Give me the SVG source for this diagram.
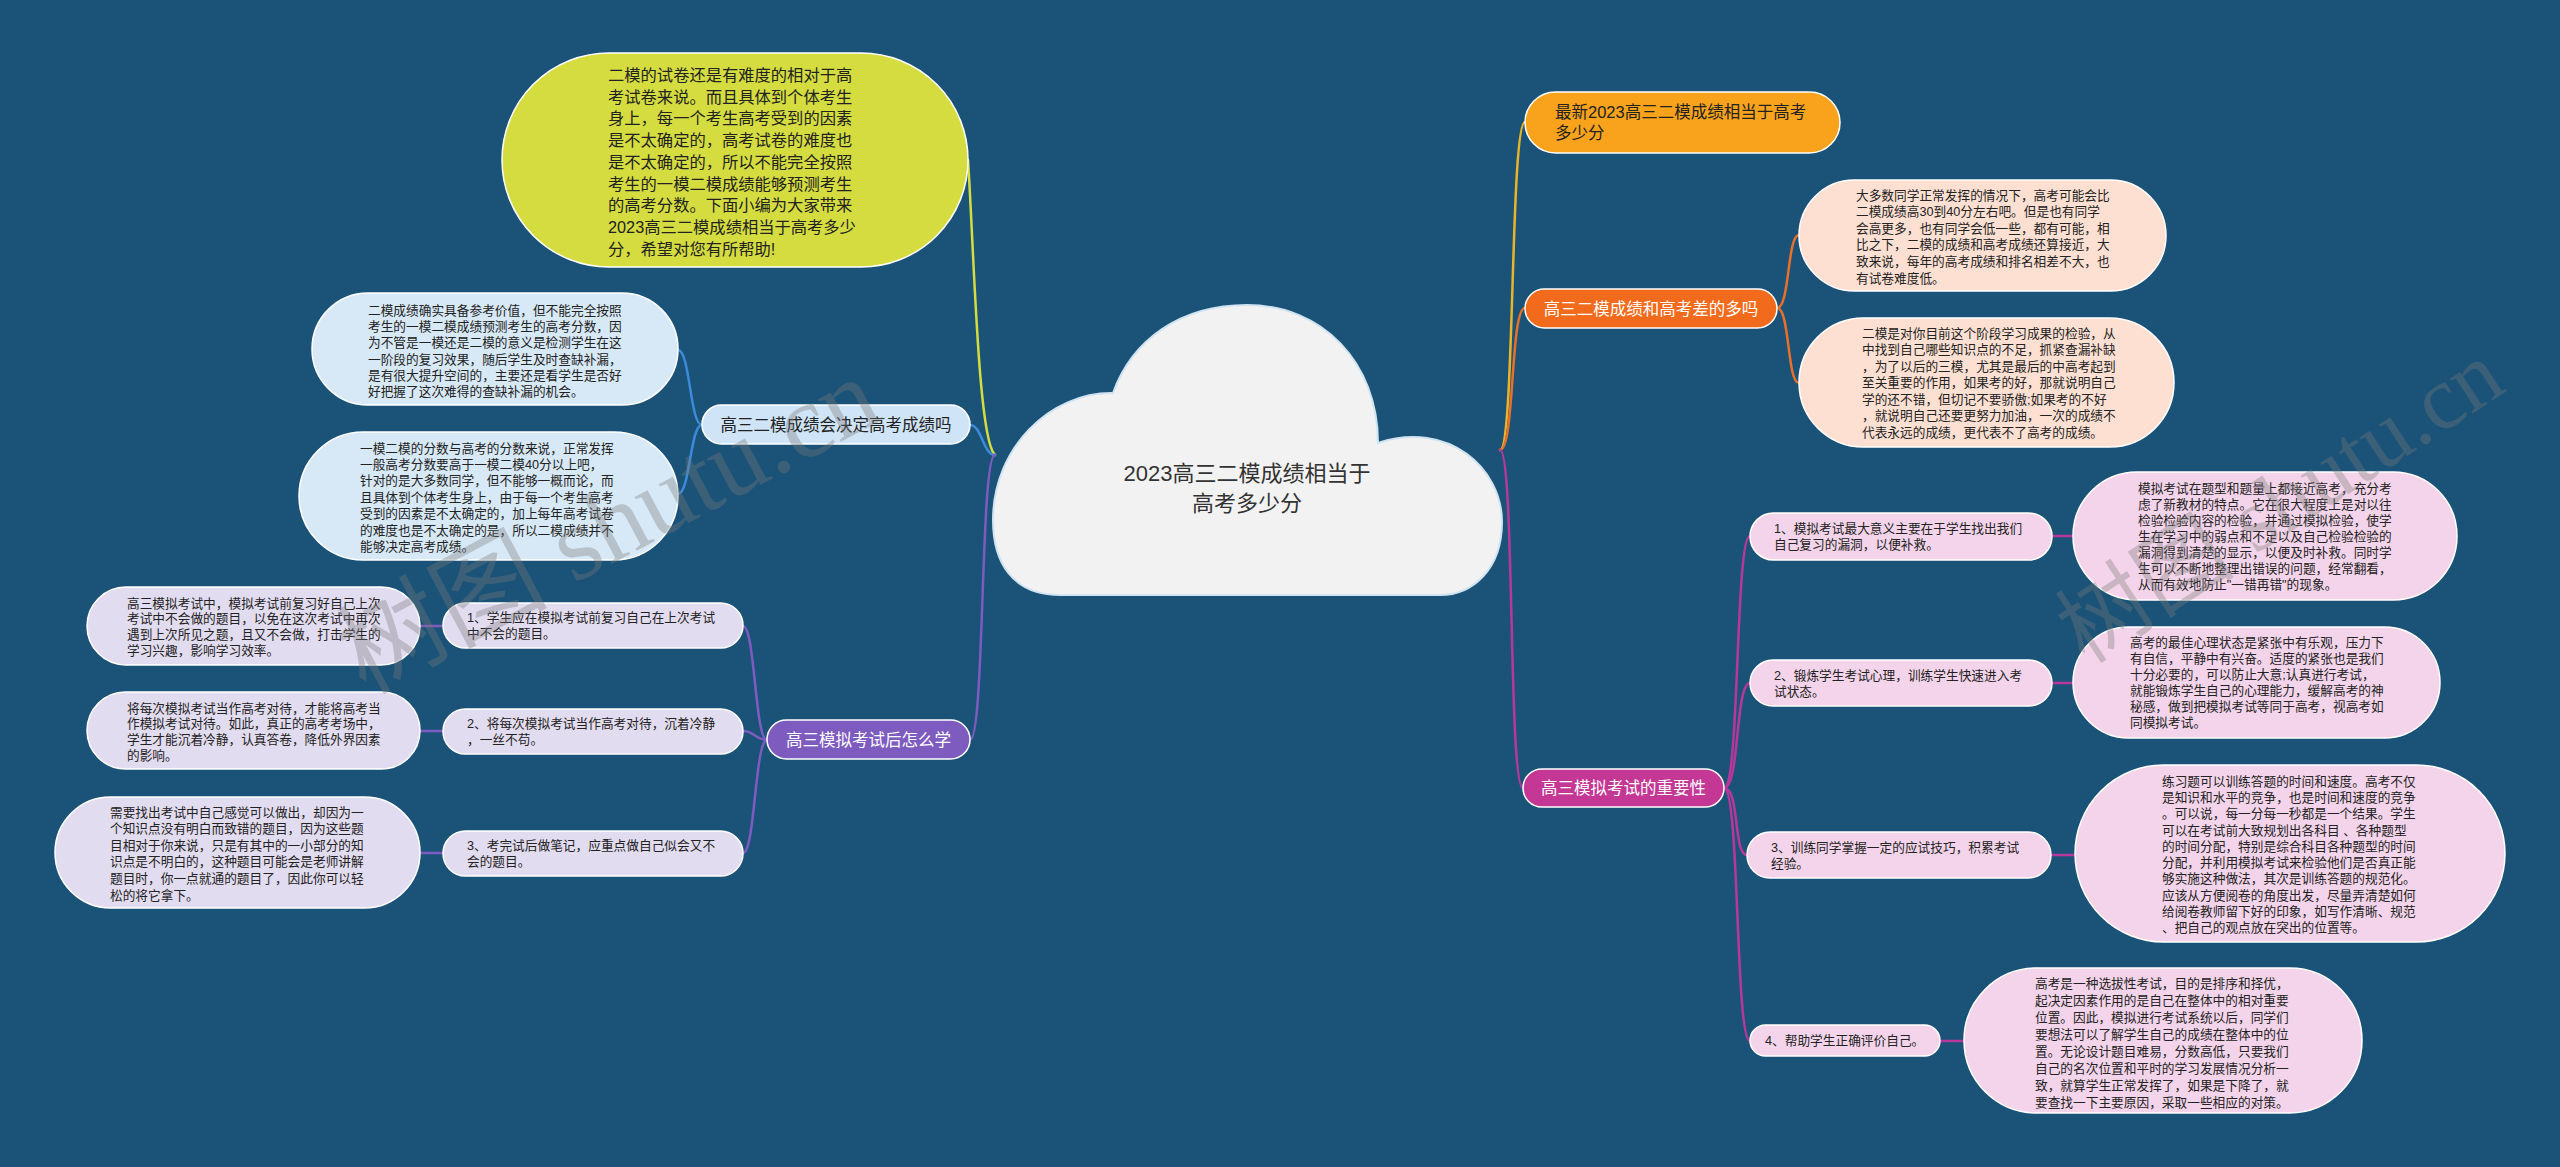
<svg xmlns="http://www.w3.org/2000/svg" width="2560" height="1167" viewBox="0 0 2560 1167">
<style>
text{font-family:"Liberation Sans","Noto Sans CJK SC",sans-serif;fill:#222}
.leaf text,.leaf{font-size:12.7px}
.n{stroke:#ffffff;stroke-width:1.5}
.main{font-size:16.5px}
.w{fill:#ffffff}
.c{fill:none;stroke-width:2.5;stroke-linecap:round}
.wm{font-family:"Liberation Serif","Noto Sans CJK SC",serif;font-size:105px;fill:#7a7a7a;opacity:0.35}
</style>
<rect x="0" y="0" width="2560" height="1167" fill="#1b5378"/>

<g id="connectors">
  <path class="c" stroke="#d4dc40" d="M995,455 C978,440 974,250 968,160"/>
  <path class="c" stroke="#3d8bd8" d="M995,455 C983,455 982,425 970,425"/>
  <path class="c" stroke="#7e5bbf" d="M995,455 C980,455 985,740 970,740"/>
  <path class="c" stroke="#e8b52a" d="M1500,450 C1515,450 1510,122 1525,122"/>
  <path class="c" stroke="#e8702a" d="M1500,450 C1515,450 1510,308 1525,308"/>
  <path class="c" stroke="#b8379a" d="M1500,450 C1515,450 1508,788 1523,788"/>
  <path class="c" stroke="#3d8bd8" d="M702,425 C690,425 690,350 678,350"/>
  <path class="c" stroke="#3d8bd8" d="M702,425 C690,425 690,494 678,494"/>
  <path class="c" stroke="#7e5bbf" d="M767,740 C755,740 755,626 743,626"/>
  <path class="c" stroke="#7e5bbf" d="M767,740 C755,740 755,731 743,731"/>
  <path class="c" stroke="#7e5bbf" d="M767,740 C755,740 755,853 743,853"/>
  <path class="c" stroke="#7e5bbf" d="M443,626 L420,626"/>
  <path class="c" stroke="#7e5bbf" d="M443,731 L420,731"/>
  <path class="c" stroke="#7e5bbf" d="M443,853 L420,853"/>
  <path class="c" stroke="#e8702a" d="M1777,308 C1790,308 1787,235 1799,235"/>
  <path class="c" stroke="#e8702a" d="M1777,308 C1790,308 1787,383 1799,383"/>
  <path class="c" stroke="#b8379a" d="M1724,788 C1740,788 1735,536 1750,536"/>
  <path class="c" stroke="#b8379a" d="M1724,788 C1740,788 1735,683 1750,683"/>
  <path class="c" stroke="#b8379a" d="M1724,788 C1740,788 1733,855 1747,855"/>
  <path class="c" stroke="#b8379a" d="M1724,788 C1740,788 1735,1041 1750,1041"/>
  <path class="c" stroke="#b8379a" d="M2052,536 L2073,536"/>
  <path class="c" stroke="#b8379a" d="M2052,683 L2073,683"/>
  <path class="c" stroke="#b8379a" d="M2051,855 L2075,855"/>
  <path class="c" stroke="#b8379a" d="M1940,1041 L1964,1041"/>
</g>

<g id="root">
  <path d="M1060,595 C1012,595 993,562 993,520 C993,448 1050,392 1113,393 C1132,340 1180,305 1247,305 C1322,305 1378,362 1378,443 C1448,420 1502,468 1502,522 C1502,570 1472,595 1440,595 Z" fill="#f2f2f2" stroke="#cfe3f1" stroke-width="2"/>
  <text x="1247" y="481" text-anchor="middle" font-size="22" style="fill:#333">2023高三二模成绩相当于</text>
  <text x="1247" y="511" text-anchor="middle" font-size="22" style="fill:#333">高考多少分</text>
</g>

<g id="intro">
  <rect class="n" x="502" y="53" width="466" height="214" rx="107" fill="#d4dc40"/>
  <text font-size="16.3">
    <tspan x="608" y="81">二模的试卷还是有难度的相对于高</tspan>
    <tspan x="608" y="102.7">考试卷来说。而且具体到个体考生</tspan>
    <tspan x="608" y="124.4">身上，每一个考生高考受到的因素</tspan>
    <tspan x="608" y="146.1">是不太确定的，高考试卷的难度也</tspan>
    <tspan x="608" y="167.8">是不太确定的，所以不能完全按照</tspan>
    <tspan x="608" y="189.5">考生的一模二模成绩能够预测考生</tspan>
    <tspan x="608" y="211.2">的高考分数。下面小编为大家带来</tspan>
    <tspan x="608" y="232.9">2023高三二模成绩相当于高考多少</tspan>
    <tspan x="608" y="254.6">分，希望对您有所帮助!</tspan>
  </text>
</g>

<g id="b1">
  <rect class="n" x="702" y="405" width="268" height="39" rx="19.5" fill="#cfe4f6"/>
  <text class="main" x="836" y="430.5" text-anchor="middle">高三二模成绩会决定高考成绩吗</text>
</g>
<g id="b1a" class="leaf">
  <rect class="n" x="312" y="293" width="366" height="112" rx="56" fill="#d7e8f6"/>
  <text>
    <tspan x="368" y="314.6">二模成绩确实具备参考价值，但不能完全按照</tspan>
    <tspan x="368" y="330.9">考生的一模二模成绩预测考生的高考分数，因</tspan>
    <tspan x="368" y="347.2">为不管是一模还是二模的意义是检测学生在这</tspan>
    <tspan x="368" y="363.5">一阶段的复习效果，随后学生及时查缺补漏，</tspan>
    <tspan x="368" y="379.8">是有很大提升空间的，主要还是看学生是否好</tspan>
    <tspan x="368" y="396.1">好把握了这次难得的查缺补漏的机会。</tspan>
  </text>
</g>
<g id="b1b" class="leaf">
  <rect class="n" x="299" y="432" width="379" height="128" rx="64" fill="#d7e8f6"/>
  <text>
    <tspan x="360" y="452.6">一模二模的分数与高考的分数来说，正常发挥</tspan>
    <tspan x="360" y="469">一般高考分数要高于一模二模40分以上吧，</tspan>
    <tspan x="360" y="485.4">针对的是大多数同学，但不能够一概而论，而</tspan>
    <tspan x="360" y="501.8">且具体到个体考生身上，由于每一个考生高考</tspan>
    <tspan x="360" y="518.2">受到的因素是不太确定的，加上每年高考试卷</tspan>
    <tspan x="360" y="534.6">的难度也是不太确定的是，所以二模成绩并不</tspan>
    <tspan x="360" y="551">能够决定高考成绩。</tspan>
  </text>
</g>

<g id="b2">
  <rect class="n" x="767" y="720" width="203" height="39" rx="19.5" fill="#7e5bbf"/>
  <text class="main w" x="868.5" y="745.5" text-anchor="middle">高三模拟考试后怎么学</text>
</g>
<g id="b2s1" class="leaf">
  <rect class="n" x="443" y="603" width="300" height="45" rx="22.5" fill="#e2dcf0"/>
  <text><tspan x="467" y="622">1、学生应在模拟考试前复习自己在上次考试</tspan><tspan x="467" y="638">中不会的题目。</tspan></text>
</g>
<g id="b2s2" class="leaf">
  <rect class="n" x="443" y="709" width="300" height="45" rx="22.5" fill="#e2dcf0"/>
  <text><tspan x="467" y="728">2、将每次模拟考试当作高考对待，沉着冷静</tspan><tspan x="467" y="744">，一丝不苟。</tspan></text>
</g>
<g id="b2s3" class="leaf">
  <rect class="n" x="443" y="831" width="300" height="45" rx="22.5" fill="#e2dcf0"/>
  <text><tspan x="467" y="850">3、考完试后做笔记，应重点做自己似会又不</tspan><tspan x="467" y="866">会的题目。</tspan></text>
</g>
<g id="b2l1" class="leaf">
  <rect class="n" x="87" y="587" width="333" height="78" rx="39" fill="#e2dcf0"/>
  <text>
    <tspan x="127" y="607.6">高三模拟考试中，模拟考试前复习好自己上次</tspan>
    <tspan x="127" y="623.3">考试中不会做的题目，以免在这次考试中再次</tspan>
    <tspan x="127" y="639">遇到上次所见之题，且又不会做，打击学生的</tspan>
    <tspan x="127" y="654.7">学习兴趣，影响学习效率。</tspan>
  </text>
</g>
<g id="b2l2" class="leaf">
  <rect class="n" x="87" y="692" width="333" height="77" rx="38.5" fill="#e2dcf0"/>
  <text>
    <tspan x="127" y="712.6">将每次模拟考试当作高考对待，才能将高考当</tspan>
    <tspan x="127" y="728.3">作模拟考试对待。如此，真正的高考考场中，</tspan>
    <tspan x="127" y="744">学生才能沉着冷静，认真答卷，降低外界因素</tspan>
    <tspan x="127" y="759.7">的影响。</tspan>
  </text>
</g>
<g id="b2l3" class="leaf">
  <rect class="n" x="55" y="797" width="365" height="111" rx="55.5" fill="#e2dcf0"/>
  <text>
    <tspan x="110" y="816.6">需要找出考试中自己感觉可以做出，却因为一</tspan>
    <tspan x="110" y="833.2">个知识点没有明白而致错的题目，因为这些题</tspan>
    <tspan x="110" y="849.8">目相对于你来说，只是有其中的一小部分的知</tspan>
    <tspan x="110" y="866.4">识点是不明白的，这种题目可能会是老师讲解</tspan>
    <tspan x="110" y="883">题目时，你一点就通的题目了，因此你可以轻</tspan>
    <tspan x="110" y="899.6">松的将它拿下。</tspan>
  </text>
</g>

<g id="r1">
  <rect class="n" x="1525" y="92" width="315" height="61" rx="30.5" fill="#f8a31b"/>
  <text class="main"><tspan x="1555" y="118">最新2023高三二模成绩相当于高考</tspan><tspan x="1555" y="139">多少分</tspan></text>
</g>

<g id="r2">
  <rect class="n" x="1525" y="289" width="252" height="39" rx="19.5" fill="#f26a1b"/>
  <text class="main w" x="1651" y="314.5" text-anchor="middle">高三二模成绩和高考差的多吗</text>
</g>
<g id="r2l1" class="leaf">
  <rect class="n" x="1799" y="180" width="367" height="111" rx="55.5" fill="#fde0d2"/>
  <text>
    <tspan x="1856" y="199.6">大多数同学正常发挥的情况下，高考可能会比</tspan>
    <tspan x="1856" y="216.2">二模成绩高30到40分左右吧。但是也有同学</tspan>
    <tspan x="1856" y="232.8">会高更多，也有同学会低一些，都有可能，相</tspan>
    <tspan x="1856" y="249.4">比之下，二模的成绩和高考成绩还算接近，大</tspan>
    <tspan x="1856" y="266">致来说，每年的高考成绩和排名相差不大，也</tspan>
    <tspan x="1856" y="282.6">有试卷难度低。</tspan>
  </text>
</g>
<g id="r2l2" class="leaf">
  <rect class="n" x="1799" y="318" width="375" height="129" rx="64.5" fill="#fde0d2"/>
  <text>
    <tspan x="1862" y="337.6">二模是对你目前这个阶段学习成果的检验，从</tspan>
    <tspan x="1862" y="354.1">中找到自己哪些知识点的不足，抓紧查漏补缺</tspan>
    <tspan x="1862" y="370.6">，为了以后的三模，尤其是最后的中高考起到</tspan>
    <tspan x="1862" y="387.1">至关重要的作用，如果考的好，那就说明自己</tspan>
    <tspan x="1862" y="403.6">学的还不错，但切记不要骄傲;如果考的不好</tspan>
    <tspan x="1862" y="420.1">，就说明自己还要更努力加油，一次的成绩不</tspan>
    <tspan x="1862" y="436.6">代表永远的成绩，更代表不了高考的成绩。</tspan>
  </text>
</g>

<g id="r3">
  <rect class="n" x="1523" y="769" width="201" height="38" rx="19" fill="#c43795"/>
  <text class="main w" x="1623.5" y="794" text-anchor="middle">高三模拟考试的重要性</text>
</g>
<g id="r3s1" class="leaf">
  <rect class="n" x="1750" y="513" width="302" height="47" rx="23.5" fill="#f4d4ea"/>
  <text><tspan x="1774" y="533">1、模拟考试最大意义主要在于学生找出我们</tspan><tspan x="1774" y="549">自己复习的漏洞，以便补救。</tspan></text>
</g>
<g id="r3s2" class="leaf">
  <rect class="n" x="1750" y="660" width="302" height="46" rx="23" fill="#f4d4ea"/>
  <text><tspan x="1774" y="679.6">2、锻炼学生考试心理，训练学生快速进入考</tspan><tspan x="1774" y="695.6">试状态。</tspan></text>
</g>
<g id="r3s3" class="leaf">
  <rect class="n" x="1747" y="832" width="304" height="46" rx="23" fill="#f4d4ea"/>
  <text><tspan x="1771" y="851.6">3、训练同学掌握一定的应试技巧，积累考试</tspan><tspan x="1771" y="867.6">经验。</tspan></text>
</g>
<g id="r3s4" class="leaf">
  <rect class="n" x="1750" y="1025" width="190" height="31" rx="15.5" fill="#f4d4ea"/>
  <text x="1765" y="1045.1">4、帮助学生正确评价自己。</text>
</g>
<g id="r3l1" class="leaf">
  <rect class="n" x="2073" y="472" width="384" height="128" rx="64" fill="#f4d4ea"/>
  <text>
    <tspan x="2138" y="492.6">模拟考试在题型和题量上都接近高考，充分考</tspan>
    <tspan x="2138" y="508.6">虑了新教材的特点。它在很大程度上是对以往</tspan>
    <tspan x="2138" y="524.6">检验检验内容的检验，并通过模拟检验，使学</tspan>
    <tspan x="2138" y="540.6">生在学习中的弱点和不足以及自己检验检验的</tspan>
    <tspan x="2138" y="556.6">漏洞得到清楚的显示，以便及时补救。同时学</tspan>
    <tspan x="2138" y="572.6">生可以不断地整理出错误的问题，经常翻看，</tspan>
    <tspan x="2138" y="588.6">从而有效地防止"一错再错"的现象。</tspan>
  </text>
</g>
<g id="r3l2" class="leaf">
  <rect class="n" x="2073" y="627" width="367" height="111" rx="55.5" fill="#f4d4ea"/>
  <text>
    <tspan x="2130" y="646.6">高考的最佳心理状态是紧张中有乐观，压力下</tspan>
    <tspan x="2130" y="662.6">有自信，平静中有兴奋。适度的紧张也是我们</tspan>
    <tspan x="2130" y="678.6">十分必要的，可以防止大意;认真进行考试，</tspan>
    <tspan x="2130" y="694.6">就能锻炼学生自己的心理能力，缓解高考的神</tspan>
    <tspan x="2130" y="710.6">秘感，做到把模拟考试等同于高考，视高考如</tspan>
    <tspan x="2130" y="726.6">同模拟考试。</tspan>
  </text>
</g>
<g id="r3l3" class="leaf">
  <rect class="n" x="2075" y="765" width="430" height="177" rx="88.5" fill="#f4d4ea"/>
  <text>
    <tspan x="2162" y="785.6">练习题可以训练答题的时间和速度。高考不仅</tspan>
    <tspan x="2162" y="801.9">是知识和水平的竞争，也是时间和速度的竞争</tspan>
    <tspan x="2162" y="818.2">。可以说，每一分每一秒都是一个结果。学生</tspan>
    <tspan x="2162" y="834.5">可以在考试前大致规划出各科目 、各种题型</tspan>
    <tspan x="2162" y="850.8">的时间分配，特别是综合科目各种题型的时间</tspan>
    <tspan x="2162" y="867.1">分配，并利用模拟考试来检验他们是否真正能</tspan>
    <tspan x="2162" y="883.4">够实施这种做法，其次是训练答题的规范化。</tspan>
    <tspan x="2162" y="899.7">应该从方便阅卷的角度出发，尽量弄清楚如何</tspan>
    <tspan x="2162" y="916">给阅卷教师留下好的印象，如写作清晰、规范</tspan>
    <tspan x="2162" y="932.3">、把自己的观点放在突出的位置等。</tspan>
  </text>
</g>
<g id="r3l4" class="leaf">
  <rect class="n" x="1964" y="968" width="398" height="145" rx="72.5" fill="#f4d4ea"/>
  <text>
    <tspan x="2035" y="987.6">高考是一种选拔性考试，目的是排序和择优，</tspan>
    <tspan x="2035" y="1004.6">起决定因素作用的是自己在整体中的相对重要</tspan>
    <tspan x="2035" y="1021.6">位置。因此，模拟进行考试系统以后，同学们</tspan>
    <tspan x="2035" y="1038.6">要想法可以了解学生自己的成绩在整体中的位</tspan>
    <tspan x="2035" y="1055.6">置。无论设计题目难易，分数高低，只要我们</tspan>
    <tspan x="2035" y="1072.6">自己的名次位置和平时的学习发展情况分析一</tspan>
    <tspan x="2035" y="1089.6">致，就算学生正常发挥了，如果是下降了，就</tspan>
    <tspan x="2035" y="1106.6">要查找一下主要原因，采取一些相应的对策。</tspan>
  </text>
</g>

<g id="watermarks">
  <text class="wm" transform="translate(365,695) rotate(-28)">树图 shutu.cn</text>
  <text class="wm" transform="translate(2085,665) rotate(-33)" style="font-size:90px">树图 shutu.cn</text>
</g>
</svg>
